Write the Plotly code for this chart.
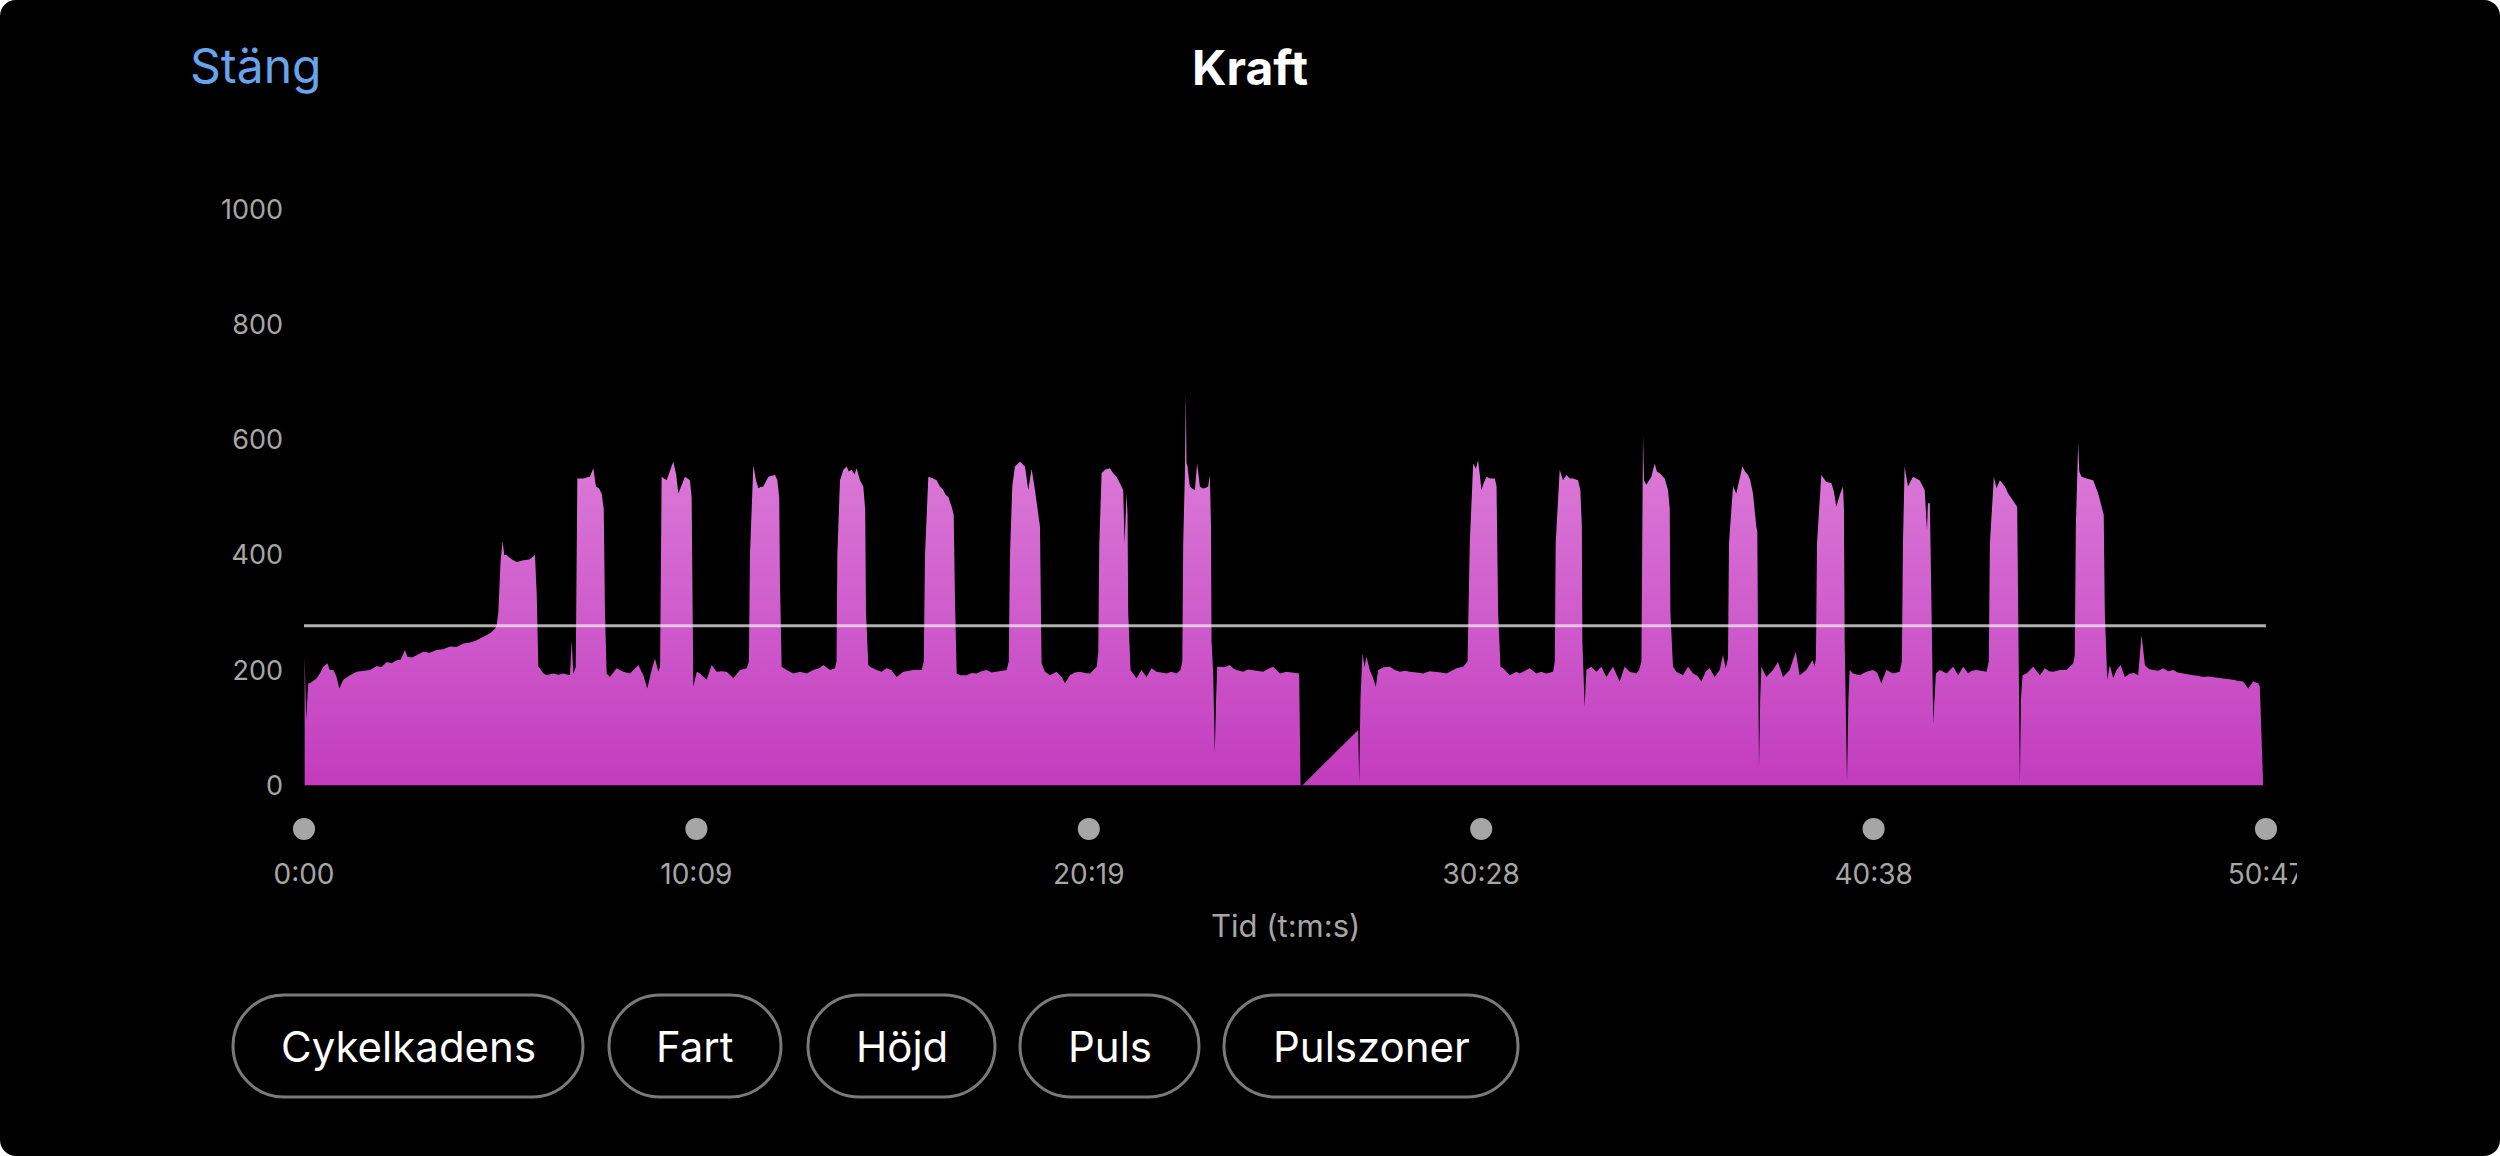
import plotly.graph_objects as go

# power samples (seconds, watts)
TIME_S = [
    1.0, 3.5, 6.5, 9.4, 19.7, 25, 30, 36.3, 40, 45.6, 50, 54.9, 61.1, 71.5, 81.8, 92, 102.5, 112.9, 120, 128.4,
    136, 144, 150, 156.9, 160.5, 168, 175, 185.3, 195, 206, 216, 226.7, 237, 247.5, 258, 268.2, 278.5, 288.9,
    296.6, 299.2,
    301.8, 305.4, 308.5, 311, 314.7, 322, 330.3, 340.6, 350, 358.7, 361.5, 363.9,
    366.5, 371, 376.8, 387.2, 395, 402.7, 413.1, 415.7, 418.3, 422,
    424.5, 433.8, 440, 444.1, 449.3, 453.5, 458, 462.3, 465.5, 467.4, 470,
    475.2, 485.5, 495.9, 506.2, 512, 519.2, 527, 533.2, 539.9, 545.1, 550.2, 553,
    555.4, 563.2, 568, 573.5, 578, 581.3, 586, 591.6, 599.4, 602, 604.6, 610, 615,
    625.4, 633.1, 640.9, 648, 656.4, 666.8, 677.1, 687.5, 691,
    692.6, 697.8, 702, 705.6, 709, 713.3, 721.1, 731.5, 735.1, 738, 739.2, 741.8,
    749.6, 759.9, 770.3, 780.6, 791, 800, 806.5, 816.9, 824.6, 827,
    828.3, 832.4, 837.6, 842.7, 846, 850.5, 855, 858.3, 863.4, 868.6, 871.5, 872.8, 876.4,
    879, 889.3, 897, 904.9, 912, 920.4, 930.7, 940, 946.3, 959.2, 962.5,
    964.4, 969.6, 977.3, 982.5, 987, 992.8, 996, 1000.6, 1005.8, 1009, 1011, 1013.6,
    1018.7, 1029.1, 1037, 1044.6, 1052, 1060.1, 1068, 1075.7, 1084, 1091.2, 1094.5,
    1096.4, 1100, 1104.1, 1111.9, 1116, 1119.7, 1124.8, 1130, 1135.2, 1140.4, 1143, 1144.5, 1145.5,
    1150.7, 1158.5, 1168.8, 1176.6, 1181.8, 1189.5, 1197, 1205.1, 1213, 1220.6, 1231, 1233.5,
    1235.1, 1238.7, 1243.9, 1251.5, 1256.7, 1261.9, 1267, 1272.2, 1274.3, 1277.4, 1279, 1280, 1283.6,
    1287.7, 1292.9, 1300.7, 1308.4, 1316.2, 1324, 1332, 1339.5, 1347, 1355, 1361.2, 1364,
    1365.4, 1368, 1369.5, 1370.5, 1372.1, 1375.7, 1380, 1383.5, 1387.1, 1391.3, 1395, 1399, 1404.2, 1406.8,
    1408.5, 1409.4, 1412, 1414.5, 1416.5, 1418.2,
    1422.3, 1430, 1437.8, 1443, 1448.2, 1458.5, 1466, 1474.1, 1482, 1489.6, 1497, 1505.1, 1515.5, 1525.8,
    1534, 1541.4, 1545.5, 1547.6,
    1550.7, 1637.1, 1638.7, 1640.7, 1643.8, 1647, 1650, 1655.2, 1660.4, 1664.5, 1668.2, 1677, 1686.3, 1694,
    1701.8, 1710, 1717.3, 1728, 1738, 1748, 1758.7, 1766, 1774.3, 1782, 1789.8, 1800.2, 1807,
    1810.5, 1815.7, 1820, 1823.4, 1826, 1828.6, 1832, 1836.4, 1841.6, 1849.3, 1852, 1854.5, 1858.1,
    1862.3, 1872.6, 1883, 1888, 1898.5, 1903.5, 1913.9, 1921, 1929.4, 1939.8, 1942.5,
    1943.9, 1950.1, 1955.3, 1960.5, 1966, 1970.8, 1978.6, 1982.2, 1984.5, 1985.3, 1988.9, 1991.5,
    1999.3, 2007, 2014.8, 2022.6, 2032.9, 2043.3, 2051, 2058.8, 2069.2, 2073.3, 2077,
    2078.5, 2079.5, 2081, 2084.7, 2092.5, 2097.6, 2101, 2105.4, 2113.2, 2118.3, 2121, 2122, 2126.1,
    2131.3, 2141.6, 2149.4, 2157.2, 2164, 2170.1, 2177, 2183, 2190.8, 2198.6, 2203.7, 2207.9, 2211.5,
    2213, 2219.3, 2224.4, 2229, 2233.8, 2238, 2242.6, 2246, 2250.3, 2255.5, 2257, 2258.1, 2259.6, 2261.5, 2263.3,
    2271, 2281.4, 2289.1, 2296.9, 2307.3, 2316.6, 2322.8, 2333.1, 2342.5, 2346.1, 2348,
    2349.7, 2356.4, 2364.2, 2372, 2376, 2379.7, 2384.9, 2390.1, 2391.5, 2392.7, 2396.3, 2398.5, 2400.4,
    2405.6, 2416, 2426.3, 2436.7, 2443, 2449.6, 2457.4, 2467.7, 2478.1, 2481.5,
    2483.2, 2485.8, 2491, 2498.8, 2505, 2509.1, 2516.9, 2520.5, 2522, 2525, 2527.6, 2530.2, 2534.3,
    2540.5, 2550.9, 2561.2, 2569, 2576.8, 2584.5, 2590, 2597.5, 2605, 2613, 2616.5,
    2618.2, 2624.4, 2628.5, 2633.7, 2641.5, 2646.6, 2654.4, 2660.6, 2662.2, 2664.8, 2666.5, 2668.9,
    2675.1, 2685.5, 2695.8, 2703.6, 2710, 2716.5, 2726.9, 2737.2, 2747.6, 2750,
    2751.7, 2755.3, 2757, 2760.5, 2768.3, 2778.6, 2786.4, 2791.6, 2795, 2796.7, 2800.4,
    2804.5, 2809.7, 2815, 2821.1, 2827.8, 2835.6, 2842, 2848.5, 2853.7, 2858.9, 2865, 2871.8, 2880, 2887.3,
    2895, 2902.8, 2910, 2918.4, 2926, 2933.9, 2941, 2949.4, 2957, 2965, 2972, 2980.5, 2988, 2996, 3004,
    3011.6, 3019.3, 3027.1, 3034.8, 3037.4, 3042.6,
]
POWER_W = [
    223, 113, 177, 177, 186, 195, 206, 212, 200, 200, 190, 168, 183, 191, 197, 198, 200, 207, 205, 214,
    212, 217, 218, 235, 223, 222, 226, 232, 230, 235, 236, 241, 240, 246, 248, 252, 258, 264,
    272, 278,
    300, 391, 424, 400, 400, 393, 388, 391, 392, 400, 330, 206,
    203, 195, 191, 194, 192, 194, 191, 252, 194, 205,
    533, 533, 535, 536, 551, 519, 516, 507, 480, 300, 194,
    188, 203, 197, 194, 200, 209, 191, 168, 200, 220, 197, 205,
    536, 530, 545, 562, 540, 507, 520, 536, 530, 500, 171, 197, 194,
    183, 209, 197, 198, 197, 186, 200, 203, 215,
    400, 556, 530, 516, 518, 519, 536, 539, 530, 500, 350, 206,
    200, 194, 197, 194, 200, 203, 209, 200, 203, 215,
    400, 530, 548, 554, 545, 548, 540, 551, 530, 519, 480, 300, 209,
    206, 200, 197, 203, 200, 188, 197, 199, 200, 200, 215,
    400, 536, 533, 530, 520, 513, 505, 501, 484, 470, 320, 194,
    191, 191, 195, 194, 198, 200, 196, 197, 199, 200, 215,
    400, 520, 554, 562, 558, 554, 513, 550, 513, 472, 449, 300, 212,
    197, 191, 197, 188, 177, 191, 196, 197, 195, 194, 206, 230,
    420, 542, 548, 551, 542, 536, 525, 513, 420, 507, 470, 300, 200,
    194, 186, 200, 188, 203, 197, 196, 194, 197, 194, 200, 215,
    420, 540, 681, 560, 554, 519, 515, 513, 559, 519, 516, 516, 519, 539,
    450, 250, 194, 55, 150, 206,
    206, 205, 209, 203, 200, 197, 201, 200, 198, 197, 202, 206, 194, 197,
    196, 194, 194, 0,
    0, 96, 5, 150, 229, 205, 223, 200, 186, 171, 200, 205, 206, 200,
    197, 199, 197, 196, 194, 198, 197, 196, 194, 199, 203, 206, 215,
    420, 559, 550, 565, 540, 513, 525, 536, 533, 533, 520, 300, 206,
    203, 191, 197, 194, 200, 203, 194, 197, 194, 197, 215,
    420, 548, 530, 539, 533, 533, 530, 513, 450, 250, 136, 200,
    206, 197, 206, 188, 206, 180, 206, 197, 194, 200, 215,
    450, 609, 530, 522, 536, 559, 545, 542, 533, 513, 480, 300, 206,
    197, 191, 206, 194, 190, 180, 198, 203, 188, 200, 226, 203, 220,
    420, 519, 507, 530, 554, 545, 539, 530, 507, 449, 440, 250, 32, 150, 206,
    188, 200, 214, 188, 200, 232, 191, 200, 217, 206, 220,
    420, 539, 527, 525, 510, 484, 504, 519, 480, 250, 6, 150, 200,
    194, 191, 197, 200, 196, 177, 200, 194, 197, 215,
    420, 554, 519, 536, 532, 530, 513, 443, 490, 490, 300, 107, 194,
    200, 194, 206, 191, 206, 194, 199, 200, 198, 197, 215,
    420, 536, 516, 530, 519, 507, 493, 484, 300, 3, 150, 191,
    194, 206, 191, 203, 198, 197, 200, 200, 212, 225,
    450, 594, 545, 536, 533, 530, 507, 487, 470, 300, 183,
    209, 186, 200, 209, 188, 194, 195, 191, 261, 209, 202, 200, 199, 203,
    198, 200, 196, 194, 193, 191, 190, 188, 189, 188, 187, 185, 184, 183, 181,
    180, 168, 180, 177, 171, 0,
]
AVG_POWER = 277
TOTAL_S = 3047
TICK_S = [0, 609.4, 1218.8, 1828.2, 2437.6, 3047]
TICK_LABELS = ["0:00", "10:09", "20:19", "30:28", "40:38", "50:47"]
Y_TICKS = [0, 200, 400, 600, 800, 1000]
BUTTONS = ["Cykelkadens", "Fart", "Höjd", "Puls", "Pulszoner"]

W, H = 2500, 1156
L, R, T, B = 304, 234, 200, 311
PW, PH = W - L - R, H - T - B
FONT = "Inter, Roboto, sans-serif"
GREY = "#a6a6a6"


def px(x):
    return (x - L) / PW


def py(y):
    return (H - B - y) / PH


def pill(x0, x1, y0, y1, r):
    k = 0.5523 * r
    pts = [
        ("M", [(x0 + r, y0)]),
        ("L", [(x1 - r, y0)]),
        ("C", [(x1 - r + k, y0), (x1, y0 + r - k), (x1, y0 + r)]),
        ("L", [(x1, y1 - r)]),
        ("C", [(x1, y1 - r + k), (x1 - r + k, y1), (x1 - r, y1)]),
        ("L", [(x0 + r, y1)]),
        ("C", [(x0 + r - k, y1), (x0, y1 - r + k), (x0, y1 - r)]),
        ("L", [(x0, y0 + r)]),
        ("C", [(x0, y0 + r - k), (x0 + r - k, y0), (x0 + r, y0)]),
    ]
    out = ""
    for cmd, coords in pts:
        out += cmd + " ".join(f"{px(a):.5f},{py(b):.5f}" for a, b in coords) + " "
    return out + "Z"


fig = go.Figure()
fig.add_trace(
    go.Scatter(
        x=TIME_S,
        y=POWER_W,
        mode="lines",
        line=dict(width=0, color="rgba(0,0,0,0)"),
        fill="tozeroy",
        fillgradient=dict(
            type="vertical",
            start=0,
            stop=600,
            colorscale=[[0, "#c23cbe"], [1, "#dc7dd9"]],
        ),
        hoverinfo="skip",
    )
)
fig.add_trace(
    go.Scatter(
        x=[0, TOTAL_S],
        y=[AVG_POWER, AVG_POWER],
        mode="lines",
        line=dict(width=3, color="rgba(235,235,235,0.75)"),
        hoverinfo="skip",
    )
)
fig.add_trace(
    go.Scatter(
        x=TICK_S,
        y=[-76] * len(TICK_S),
        mode="markers",
        marker=dict(size=22, color=GREY),
        cliponaxis=False,
        hoverinfo="skip",
    )
)

shapes = [
    dict(type="path", xref="paper", yref="paper", path=pill(0, W, 0, H, 16),
         fillcolor="black", line=dict(width=0), layer="below"),
    # last tick label is cut off at the right edge in the app
    dict(type="rect", xref="paper", yref="paper", x0=px(2297), x1=px(2420), y0=py(900), y1=py(850),
         fillcolor="black", line=dict(width=0), layer="above"),
]
annotations = [
    dict(text="<b>Kraft</b>", x=px(1250), y=py(67), font=dict(size=48, color="white", family=FONT)),
    dict(text="Stäng", x=px(188), y=py(65), xanchor="left", font=dict(size=48, color="#68a4ec", family=FONT)),
    dict(text="Tid (t:m:s)", x=px(1285), y=py(925), font=dict(size=31, color=GREY, family=FONT)),
]
button_x = [(233, 583), (609, 781), (808, 995), (1020, 1199), (1224, 1518)]
for label, (bx0, bx1) in zip(BUTTONS, button_x):
    shapes.append(dict(type="path", xref="paper", yref="paper", path=pill(bx0, bx1, 995, 1097, 51),
                       line=dict(width=3, color="#7a7a7a"), fillcolor="rgba(0,0,0,0)", layer="above"))
    annotations.append(dict(text=label, x=px((bx0 + bx1) / 2), y=py(1046),
                            font=dict(size=42, color="white", family=FONT)))
for a in annotations:
    a.update(xref="paper", yref="paper", showarrow=False)
    a.setdefault("xanchor", "center")
    a.setdefault("yanchor", "middle")

fig.update_layout(
    width=W,
    height=H,
    autosize=False,
    margin=dict(l=L, r=R, t=T, b=B, pad=0),
    paper_bgcolor="white",
    plot_bgcolor="rgba(0,0,0,0)",
    showlegend=False,
    shapes=shapes,
    annotations=annotations,
    font=dict(family=FONT),
    xaxis=dict(
        range=[0, TOTAL_S],
        tickvals=TICK_S,
        ticktext=TICK_LABELS,
        tickfont=dict(size=28, color=GREY),
        ticklabelstandoff=10,
        showgrid=False,
        zeroline=False,
        showline=False,
        fixedrange=True,
    ),
    yaxis=dict(
        range=[-104, 1017],
        tickvals=Y_TICKS,
        tickfont=dict(size=27, color=GREY),
        ticklabelstandoff=20,
        showgrid=False,
        zeroline=False,
        showline=False,
        fixedrange=True,
    ),
)

fig.write_html(
    "out.html",
    config={"displayModeBar": False},
    post_script="document.body.style.margin='0';document.body.style.overflow='hidden';",
)
